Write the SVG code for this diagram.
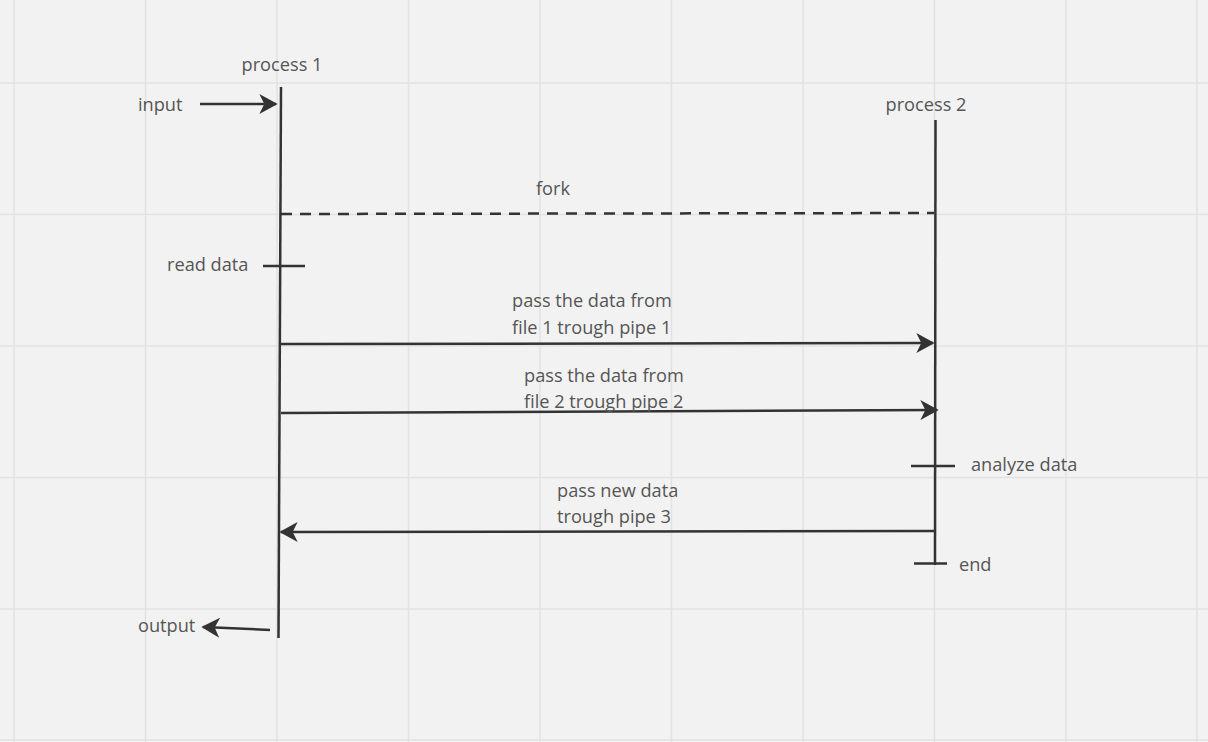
<svg xmlns="http://www.w3.org/2000/svg" width="1208" height="742" viewBox="0 0 1208 742">
  <style>
    .grid line { stroke: #e2e2e2; stroke-width: 1.5; }
    .ln { stroke: #333; stroke-width: 2.5; fill: none; stroke-linecap: butt; }
    .dash { stroke-dasharray: 11 8; }
    text { font-family: "Open Sans", "Noto Sans", "Liberation Sans", sans-serif; font-size: 18.2px; fill: #555; }
  </style>
  <defs>
    <marker id="head" viewBox="0 0 12 12" refX="10" refY="6" markerWidth="8" markerHeight="8" orient="auto" markerUnits="strokeWidth">
      <path d="M0,0 L11,6 L0,12 L3,6 Z" fill="#333"/>
    </marker>
  </defs>
  <rect width="1208" height="742" fill="#f2f2f2"/>
  <g class="grid">
    <line x1="14" y1="0" x2="14" y2="742"/>
    <line x1="145.5" y1="0" x2="145.5" y2="742"/>
    <line x1="277" y1="0" x2="277" y2="742"/>
    <line x1="408.5" y1="0" x2="408.5" y2="742"/>
    <line x1="540" y1="0" x2="540" y2="742"/>
    <line x1="671.5" y1="0" x2="671.5" y2="742"/>
    <line x1="803" y1="0" x2="803" y2="742"/>
    <line x1="934.5" y1="0" x2="934.5" y2="742"/>
    <line x1="1066" y1="0" x2="1066" y2="742"/>
    <line x1="1197" y1="0" x2="1197" y2="742"/>
    <line x1="0" y1="83" x2="1208" y2="83"/>
    <line x1="0" y1="214.5" x2="1208" y2="214.5"/>
    <line x1="0" y1="346" x2="1208" y2="346"/>
    <line x1="0" y1="477.5" x2="1208" y2="477.5"/>
    <line x1="0" y1="609" x2="1208" y2="609"/>
    <line x1="0" y1="740" x2="1208" y2="740"/>
  </g>

  <!-- lifeline of process 1 -->
  <g id="process1">
    <line class="ln" x1="281" y1="87" x2="278.5" y2="638"/>
    <text x="282" y="71" text-anchor="middle">process 1</text>
  </g>

  <!-- lifeline of process 2 -->
  <g id="process2">
    <line class="ln" x1="935.5" y1="120" x2="935" y2="565"/>
    <text x="926" y="111" text-anchor="middle">process 2</text>
  </g>

  <g id="input"><text x="138" y="111">input</text></g>
  <g id="output"><text x="138" y="632">output</text></g>

  <g id="read-data">
    <line class="ln" x1="263" y1="266" x2="305" y2="266"/>
    <text x="167" y="271">read data</text>
  </g>
  <g id="analyze-data">
    <line class="ln" x1="911" y1="466" x2="955" y2="466"/>
    <text x="971" y="471">analyze data</text>
  </g>
  <g id="end">
    <line class="ln" x1="914" y1="563.5" x2="947" y2="563.5"/>
    <text x="959" y="571">end</text>
  </g>

  <!-- messages between the processes -->
  <g id="connectors">
    <line class="ln" x1="200" y1="104" x2="276" y2="104" marker-end="url(#head)"/>
    <line class="ln" x1="270" y1="630" x2="203" y2="627" marker-end="url(#head)"/>
    <line class="ln dash" x1="281" y1="214" x2="934" y2="213"/>
    <line class="ln" x1="281" y1="344" x2="933" y2="343" marker-end="url(#head)"/>
    <line class="ln" x1="281" y1="413" x2="937" y2="410" marker-end="url(#head)"/>
    <line class="ln" x1="935" y1="531" x2="281" y2="532" marker-end="url(#head)"/>
  </g>

  <g id="labels">
    <text x="553" y="195" text-anchor="middle">fork</text>
    <text x="512" y="307">pass the data from</text>
    <text x="512" y="334">file 1 trough pipe 1</text>
    <text x="524" y="382">pass the data from</text>
    <text x="524" y="408">file 2 trough pipe 2</text>
    <text x="557" y="497">pass new data</text>
    <text x="557" y="523">trough pipe 3</text>
  </g>
</svg>
